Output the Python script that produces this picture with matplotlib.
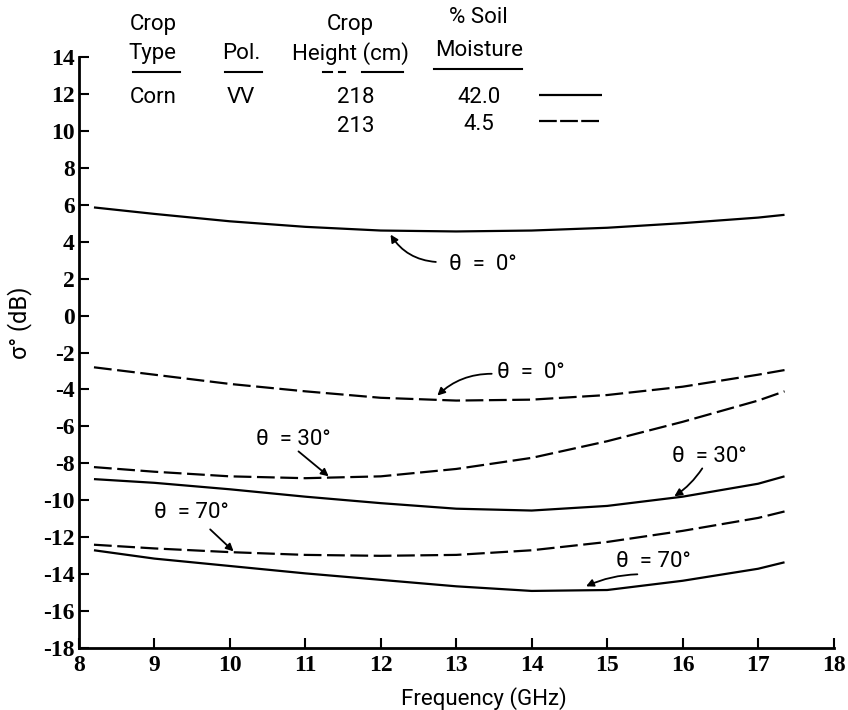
import matplotlib
matplotlib.use("Agg")
import matplotlib.pyplot as plt

# frequency points (GHz) and backscatter (dB) for corn, VV
freq = [8.2, 9, 10, 11, 12, 13, 14, 15, 16, 17, 17.35]
wet_0 = [5.85, 5.5, 5.1, 4.8, 4.6, 4.55, 4.6, 4.75, 5.0, 5.3, 5.45]
dry_0 = [-2.8, -3.2, -3.7, -4.1, -4.45, -4.6, -4.55, -4.3, -3.85, -3.2, -2.95]
dry_30 = [-8.2, -8.45, -8.7, -8.8, -8.7, -8.3, -7.7, -6.8, -5.75, -4.6, -4.1]
wet_30 = [-8.85, -9.05, -9.4, -9.8, -10.15, -10.45, -10.55, -10.3, -9.8, -9.1, -8.7]
dry_70 = [-12.4, -12.6, -12.8, -12.95, -13.0, -12.95, -12.7, -12.25, -11.65, -10.95, -10.6]
wet_70 = [-12.7, -13.15, -13.55, -13.95, -14.3, -14.65, -14.9, -14.85, -14.35, -13.7, -13.35]

xticks = list(range(8, 19))
yticks = list(range(-18, 15, 2))

narrow = ["Roboto", "DejaVu Sans"]
serif = ["Liberation Serif", "DejaVu Serif"]

fig = plt.figure(figsize=(8.48, 7.1), dpi=100)
ax = fig.add_axes([0.093, 0.087, 0.890, 0.833])

solid = dict(color="black", lw=1.6, solid_capstyle="butt")
dashed = dict(color="black", lw=1.6, linestyle=(0, (8, 2.5)))

ax.plot(freq, wet_0, **solid)
ax.plot(freq, dry_0, **dashed)
ax.plot(freq, dry_30, **dashed)
ax.plot(freq, wet_30, **solid)
ax.plot(freq, dry_70, **dashed)
ax.plot(freq, wet_70, **solid)

ax.set_xlim(8, 18)
ax.set_ylim(-18, 14)
ax.set_xticks(xticks)
ax.set_yticks(yticks)
ax.set_xticklabels([str(t) for t in xticks], family=serif, fontsize=17, weight="bold")
ax.set_yticklabels([str(t) for t in yticks], family=serif, fontsize=17, weight="bold")
ax.tick_params(axis="both", direction="in", length=7, width=1.5, pad=3)
ax.tick_params(axis="x", pad=5)
for s in ["top", "right"]:
    ax.spines[s].set_visible(False)
for s in ["left", "bottom"]:
    ax.spines[s].set_linewidth(2)

ax.set_xlabel("Frequency (GHz)", family=narrow, fontsize=16)
ax.xaxis.set_label_coords(0.537, -0.065)
ax.set_ylabel("σ° (dB)", family=narrow, fontsize=17)
ax.yaxis.set_label_coords(-0.062, 0.55)

# curve labels
arrow = dict(arrowstyle="-|>", color="black", lw=1.3, mutation_scale=11,
             shrinkA=0, shrinkB=0)
labels = [
    ("θ  =  0°", (12.9, 2.75), (12.73, 2.9), (12.13, 4.38), -0.25),
    ("θ  =  0°", (13.54, -3.1), (13.47, -3.15), (12.75, -4.33), 0.2),
    ("θ  = 30°", (10.35, -6.7), (10.91, -7.35), (11.31, -8.7), 0.0),
    ("θ  = 30°", (15.86, -7.6), (16.26, -8.27), (15.89, -9.78), -0.1),
    ("θ  = 70°", (9.0, -10.65), (9.74, -11.57), (10.05, -12.76), 0.0),
    ("θ  = 70°", (15.12, -13.3), (15.4, -14.0), (14.72, -14.65), 0.1),
]
for txt, tpos, tail, head, rad in labels:
    ax.text(*tpos, txt, family=narrow, fontsize=16, va="center", ha="left")
    ax.annotate("", xy=head, xytext=tail,
                arrowprops=dict(arrow, connectionstyle=f"arc3,rad={rad}"))

# header table
hdr = dict(family=narrow, fontsize=16, ha="center", va="center", clip_on=False)
ax.text(8.98, 15.75, "Crop", **hdr)
ax.text(8.98, 14.2, "Type", **hdr)
ax.text(10.15, 14.2, "Pol.", **hdr)
ax.text(11.6, 15.75, "Crop", **hdr)
ax.text(11.6, 14.2, "Height (cm)", **hdr)
ax.text(13.3, 16.15, "% Soil", **hdr)
ax.text(13.3, 14.35, "Moisture", **hdr)
ax.text(8.98, 11.8, "Corn", **hdr)
ax.text(10.15, 11.8, "VV", **hdr)
ax.text(11.67, 11.8, "218", **hdr)
ax.text(11.67, 10.25, "213", **hdr)
ax.text(13.3, 11.8, "42.0", **hdr)
ax.text(13.3, 10.35, "4.5", **hdr)

uline = dict(color="black", lw=1.5, clip_on=False)
ax.plot([8.72, 9.34], [13.2, 13.2], **uline)
ax.plot([9.94, 10.42], [13.2, 13.2], **uline)
ax.plot([11.23, 11.35], [13.2, 13.2], **uline)
ax.plot([11.45, 11.52], [13.2, 13.2], **uline)
ax.plot([11.75, 12.3], [13.2, 13.2], **uline)
ax.plot([12.7, 13.87], [13.35, 13.35], **uline)

ax.plot([14.1, 14.93], [11.95, 11.95], **solid, clip_on=False)
ax.plot([14.1, 14.93], [10.5, 10.5], color="black", lw=1.6,
        linestyle=(0, (8, 1.5)), clip_on=False)

fig.savefig("out.png", dpi=100)
